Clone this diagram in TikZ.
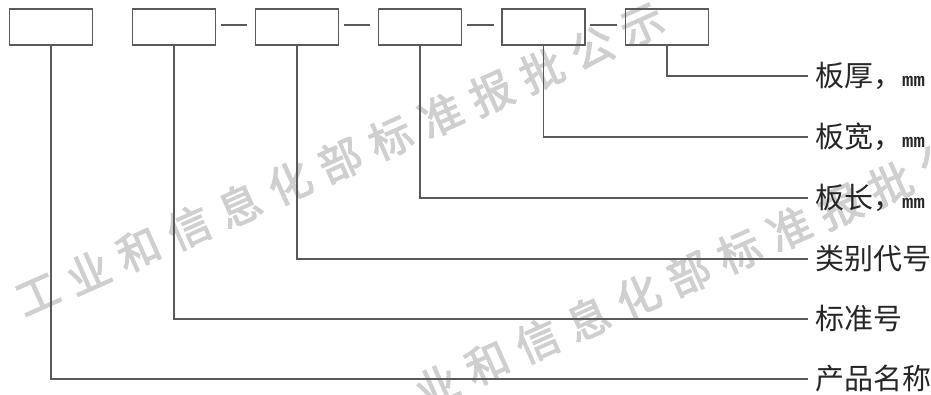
\documentclass[tikz,border=0pt]{standalone}
\usepackage{fontspec}
\setmainfont{Noto Sans CJK SC}
\newfontfamily\monof{Liberation Mono}
\newfontfamily\wmfont{Noto Sans CJK SC}[FakeBold=2.5]
\definecolor{linec}{HTML}{5A5A5A}
\definecolor{wmc}{HTML}{CFCFCF}
\begin{document}
\begin{tikzpicture}[x=1pt,y=-1pt,
  box/.style={draw=linec,line width=1.1pt,minimum width=83pt,minimum height=36pt,inner sep=0pt},
  conn/.style={draw=linec,line width=1.1pt},
  dashconn/.style={draw=linec,line width=1.1pt,shorten <=4.5pt,shorten >=7.5pt},
  lbl/.style={anchor=west,inner xsep=7pt,inner ysep=0pt,text height=23pt,text depth=1.5pt,font=\fontsize{29}{30}\selectfont,text=black!85},
  wm/.style={text=wmc,font=\wmfont\fontsize{43}{43}\selectfont,rotate=24,inner sep=0pt}]
\useasboundingbox (0,0) rectangle (931,394);
% watermark
\foreach \c [count=\i from 0] in {工,业,和,信,息,化,部,标,准,报,批,公,示} {
  \node[wm] (wa\i) at ({37.6+50.4*\i},{294.4-22.4*\i}) {\c};
}
\foreach \c [count=\i from 1] in {业,和,信,息,化,部,标,准,报,批,公} {
  \node[wm] (wb\i) at ({386.2+50.4*\i},{407.8-22.4*\i}) {\c};
}
% boxes
\node[box] (b1) at (51,27) {};
\node[box] (b2) at (174,27) {};
\node[box] (b3) at (297,27) {};
\node[box] (b4) at (420,27) {};
\node[box] (b5) at (543.5,27) {};
\node[box] (b6) at (667,27) {};
% dashes between boxes
\draw[dashconn] ([yshift=2pt]b2.east) -- ([yshift=2pt]b3.west);
\draw[dashconn] ([yshift=2pt]b3.east) -- ([yshift=2pt]b4.west);
\draw[dashconn] ([yshift=2pt]b4.east) -- ([yshift=2pt]b5.west);
\draw[dashconn] ([yshift=2pt]b5.east) -- ([yshift=2pt]b6.west);
% labels
\node[lbl] (t1) at (808,76) {板厚，{\monof\bfseries\fontsize{19}{19}\selectfont mm}};
\node[lbl] (t2) at (808,137) {板宽，{\monof\bfseries\fontsize{19}{19}\selectfont mm}};
\node[lbl] (t3) at (808,198) {板长，{\monof\bfseries\fontsize{19}{19}\selectfont mm}};
\node[lbl] (t4) at (808,259) {类别代号};
\node[lbl] (t5) at (808,319) {标准号};
\node[lbl] (t6) at (808,379) {产品名称};
% connectors
\draw[conn] (b6.south) |- (t1.west);
\draw[conn] (b5.south) |- (t2.west);
\draw[conn] (b4.south) |- (t3.west);
\draw[conn] (b3.south) |- (t4.west);
\draw[conn] (b2.south) |- (t5.west);
\draw[conn] (b1.south) |- (t6.west);
\end{tikzpicture}
\end{document}
